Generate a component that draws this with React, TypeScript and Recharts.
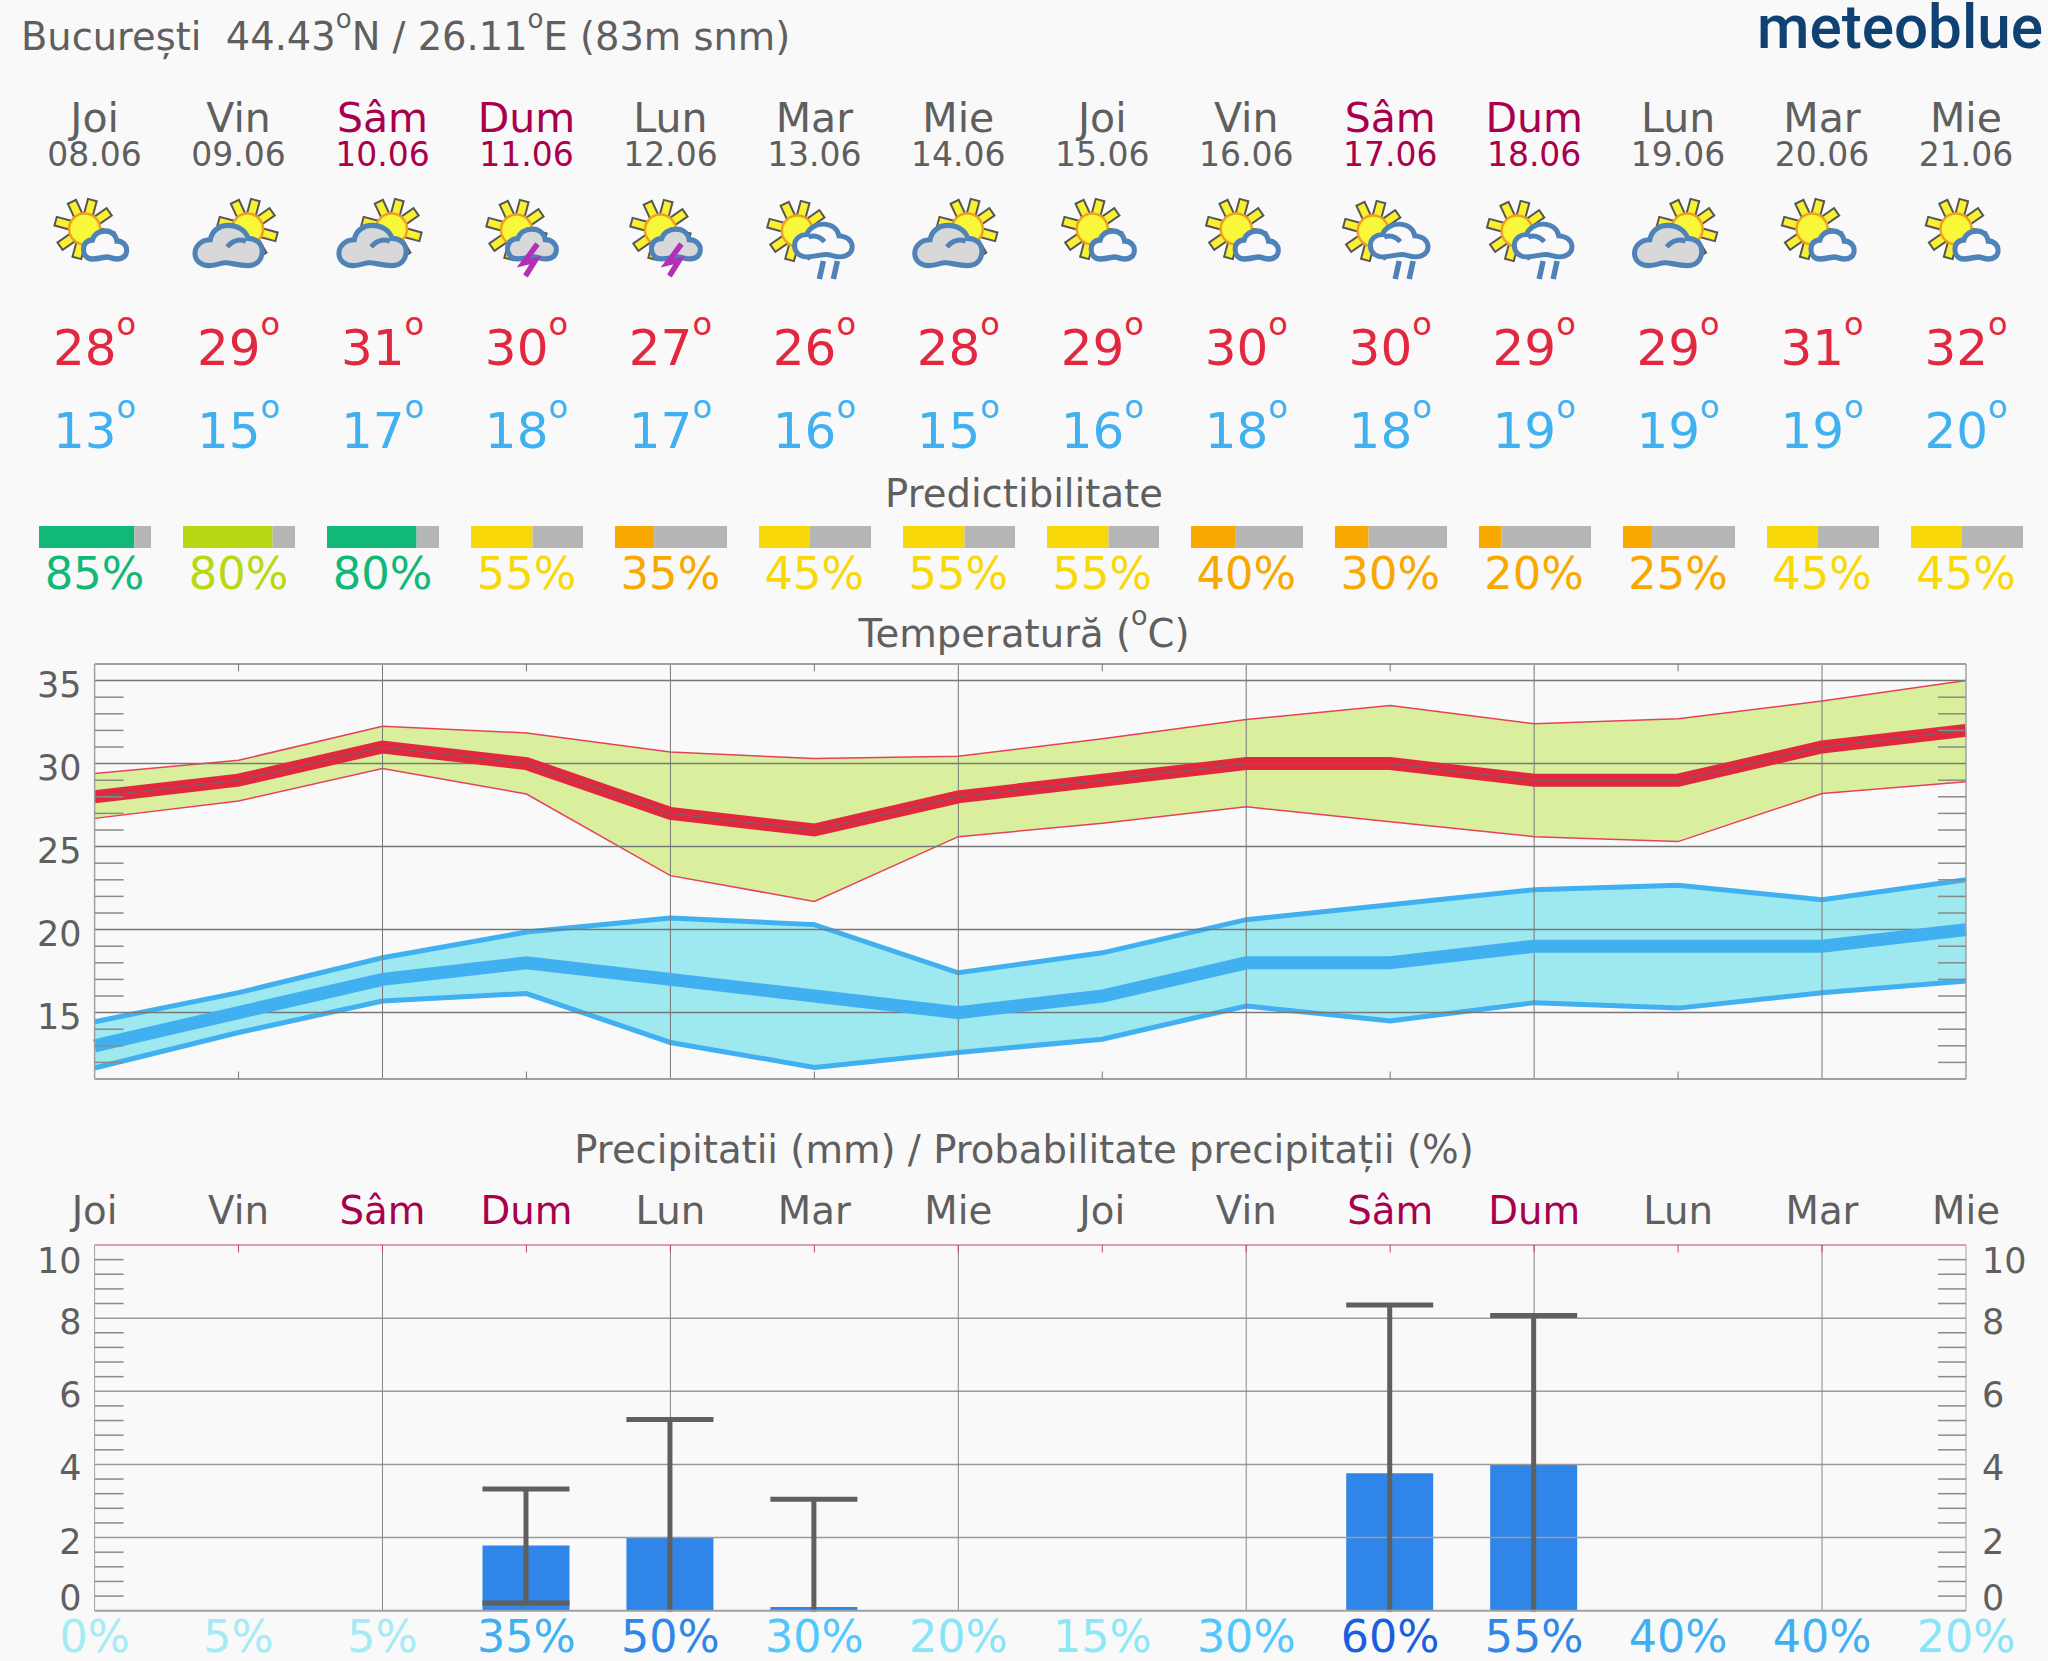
import { Area, Bar, BarChart, ComposedChart, ErrorBar, Line, ReferenceLine, XAxis, YAxis } from 'recharts'

const DAYS = ['Joi', 'Vin', 'Sâm', 'Dum', 'Lun', 'Mar', 'Mie', 'Joi', 'Vin', 'Sâm', 'Dum', 'Lun', 'Mar', 'Mie']
const DATES = ['08.06', '09.06', '10.06', '11.06', '12.06', '13.06', '14.06', '15.06', '16.06', '17.06', '18.06', '19.06', '20.06', '21.06']
const ICONS = ['sunCloud', 'cloudSun', 'cloudSun', 'storm', 'storm', 'rain', 'cloudSun', 'sunCloud', 'sunCloud', 'rain', 'rain', 'cloudSun', 'sunCloud', 'sunCloud']

const TEMP_MAX = [28, 29, 31, 30, 27, 26, 28, 29, 30, 30, 29, 29, 31, 32]
const TEMP_MIN = [13, 15, 17, 18, 17, 16, 15, 16, 18, 18, 19, 19, 19, 20]
const MAX_HIGH = [29.4, 30.2, 32.25, 31.85, 30.7, 30.3, 30.45, 31.5, 32.65, 33.5, 32.4, 32.7, 33.77, 35.0]
const MAX_LOW = [26.7, 27.75, 29.7, 28.17, 23.25, 21.7, 25.6, 26.4, 27.4, 26.5, 25.6, 25.3, 28.2, 28.9]
const MIN_HIGH = [14.45, 16.2, 18.3, 19.85, 20.7, 20.3, 17.4, 18.6, 20.6, 21.5, 22.4, 22.67, 21.8, 23.0]
const MIN_LOW = [11.66, 13.8, 15.7, 16.15, 13.2, 11.7, 12.6, 13.4, 15.4, 14.5, 15.6, 15.27, 16.2, 16.9]

const PREDICT = [85, 80, 80, 55, 35, 45, 55, 55, 40, 30, 20, 25, 45, 45]
const PREDICT_COLORS = ['#12b878', '#b8d814', '#12b878', '#f8d808', '#f8a800', '#f8d808', '#f8d808', '#f8d808', '#f8a800', '#f8a800', '#f8a800', '#f8a800', '#f8d808', '#f8d808']

const RAIN = [null, null, null, 1.78, 2.0, 0.1, null, null, null, 3.76, 4.0, null, null, null]
const RAIN_HIGH = [null, null, null, 3.33, 5.23, 3.05, null, null, null, 8.36, 8.07, null, null, null]
// -2 means the lower whisker runs off the bottom of the plot, so no cap shows
const RAIN_LOW = [null, null, null, 0.21, -2, -2, null, null, null, -2, -2, null, null, null]
const RAIN_PROB = [0, 5, 5, 35, 50, 30, 20, 15, 30, 60, 55, 40, 40, 20]
const RAIN_PROB_COLORS = ['#a4ecf4', '#a4ecf4', '#a4ecf4', '#40b0f0', '#2f86e8', '#50c8fc', '#88e4f6', '#8ce8f6', '#50c8fc', '#1a5ee0', '#2f86e8', '#40b0f0', '#40b0f0', '#88e4f6']

const TEMP_MAJOR = [15, 20, 25, 30, 35]
const TEMP_TICKS = [12, 13, 14, 15, 16, 17, 18, 19, 20, 21, 22, 23, 24, 25, 26, 27, 28, 29, 30, 31, 32, 33, 34, 35]
const RAIN_MAJOR = [0, 2, 4, 6, 8, 10]
const RAIN_TICKS = [0, 0.4, 0.8, 1.2, 1.6, 2, 2.4, 2.8, 3.2, 3.6, 4, 4.4, 4.8, 5.2, 5.6, 6, 6.4, 6.8, 7.2, 7.6, 8, 8.4, 8.8, 9.2, 9.6, 10]
const ALL_X = [0, 1, 2, 3, 4, 5, 6, 7, 8, 9, 10, 11, 12, 13]
const ODD_X = [1, 3, 5, 7, 9, 11]
const EVEN_X = [2, 4, 6, 8, 10, 12]
const RAY_ANGLES = [-165, -115, -75, -35, 15, 60, 105, 145]

const FONT = '"DejaVu Sans", sans-serif'
const GRAY = '#5f5f5f'
const WEEKEND = '#a8004c'
const BG = '#f9f9f9'
const PLOT_LEFT = 94.6
const PLOT_RIGHT = 82
const STEP = (2048 - PLOT_LEFT - PLOT_RIGHT) / 13

const dayColor = (d: string) => (d === 'Sâm' || d === 'Dum' ? WEEKEND : GRAY)
const cx = (i: number) => PLOT_LEFT + STEP * i

const tempData = DAYS.map((_, i) => ({
  i,
  max: TEMP_MAX[i],
  min: TEMP_MIN[i],
  maxBand: [MAX_LOW[i], MAX_HIGH[i]],
  minBand: [MIN_LOW[i], MIN_HIGH[i]],
}))

const rainData = DAYS.map((_, i) => ({
  i,
  rain: RAIN[i],
  err: RAIN[i] == null ? null : [RAIN[i]! - RAIN_LOW[i]!, RAIN_HIGH[i]! - RAIN[i]!],
}))

const CLOUD = 'M22 58 C8 58 2 48 2 38 C2 27 11 20 22 20 C26 8 38 2 50 2 C64 2 74 10 76 22 C88 22 98 30 98 41 C98 52 88 58 78 58 C66 58 62 54 55 54 C45 54 38 58 22 58 Z'

function Sun({ x, y }: { x: number; y: number }) {
  return (
    <g transform={`translate(${x} ${y})`}>
      {RAY_ANGLES.map((a) => (
        <rect key={a} x={14} y={-4.5} width={16} height={9} fill="#f8f030" stroke="#555" strokeWidth={2} transform={`rotate(${a})`} />
      ))}
      <circle r={15.5} fill="#f8f838" stroke="#f0a020" strokeWidth={2.5} />
    </g>
  )
}

function Cloud({ x, y, w, h, fill, flip, hook }: { x: number; y: number; w: number; h: number; fill: string; flip?: boolean; hook?: boolean }) {
  const t = flip ? `translate(${x + w} ${y}) scale(${-w / 100} ${h / 60})` : `translate(${x} ${y}) scale(${w / 100} ${h / 60})`
  const sw = (5 * 100) / w
  return (
    <g transform={t}>
      <path d={CLOUD} fill={fill} stroke="#4f82b8" strokeWidth={sw} />
      {hook && <path d="M25 24 C35 20 45 24 52 32" fill="none" stroke="#4f82b8" strokeWidth={sw} />}
    </g>
  )
}

function WeatherIcon({ kind, c }: { kind: string; c: number }) {
  if (kind === 'cloudSun') {
    return (
      <g>
        <Sun x={c + 9} y={229} />
        <Cloud x={c - 45} y={224} w={70} h={43} fill="#d8d8d8" flip hook />
      </g>
    )
  }
  if (kind === 'sunCloud') {
    return (
      <g>
        <Sun x={c - 10} y={229} />
        <Cloud x={c - 12} y={230} w={45} h={30} fill={BG} />
      </g>
    )
  }
  if (kind === 'storm') {
    return (
      <g>
        <Sun x={c - 10} y={230} />
        <Cloud x={c - 20} y={228} w={51} h={32} fill="#d8d8d8" />
        <path d={`M${c + 11} ${244} L${c - 3} ${263} L${c + 9} ${260} L${c - 1} ${276}`} fill="none" stroke="#b030b8" strokeWidth={5.5} />
      </g>
    )
  }
  return (
    <g>
      <Sun x={c - 17} y={231} />
      <Cloud x={c - 21} y={223} w={60} h={35} fill={BG} hook />
      <path d={`M${c + 9} 261 L${c + 5} 279 M${c + 23} 261 L${c + 19} 279`} stroke="#4f82b8" strokeWidth={5.5} fill="none" />
    </g>
  )
}

function Degree({ x, y, text, color }: { x: number; y: number; text: string; color: string }) {
  return (
    <text x={x} y={y} textAnchor="middle" fontSize={50} fill={color} fontFamily={FONT}>
      {text}
      <tspan dy={-30} fontSize={32}>o</tspan>
    </text>
  )
}

function Header() {
  return (
    <svg width={2048} height={1661} style={{ position: 'absolute', left: 0, top: 0 }}>
      <text x={21} y={50} fontSize={38.4} fill={GRAY} fontFamily={FONT} xmlSpace="preserve">
        București{'  '}44.43<tspan dy={-22} fontSize={26}>o</tspan><tspan dy={22}>N / 26.11</tspan><tspan dy={-22} fontSize={26}>o</tspan><tspan dy={22}>E (83m snm)</tspan>
      </text>
      <text x={1757} y={48} fontSize={62} fontWeight={500} fill="#0f4272" fontFamily="Roboto, sans-serif" textLength={286} lengthAdjust="spacingAndGlyphs">
        meteoblue
      </text>
      {DAYS.map((d, i) => (
        <g key={i}>
          <text x={cx(i)} y={132} textAnchor="middle" fontSize={41} fill={dayColor(d)} fontFamily={FONT}>{d}</text>
          <text x={cx(i)} y={166} textAnchor="middle" fontSize={33} fill={dayColor(d)} fontFamily={FONT}>{DATES[i]}</text>
          <WeatherIcon kind={ICONS[i]} c={cx(i)} />
          <Degree x={cx(i)} y={365} text={String(TEMP_MAX[i])} color="#e1283f" />
          <Degree x={cx(i)} y={448} text={String(TEMP_MIN[i])} color="#40b0f0" />
          <text x={cx(i)} y={589} textAnchor="middle" fontSize={44.8} fill={PREDICT_COLORS[i]} fontFamily={FONT}>{PREDICT[i]}%</text>
        </g>
      ))}
      <text x={1024} y={507} textAnchor="middle" fontSize={38.6} fill={GRAY} fontFamily={FONT}>Predictibilitate</text>
      <text x={1024} y={647} textAnchor="middle" fontSize={38.6} fill={GRAY} fontFamily={FONT}>
        Temperatură (<tspan dy={-22} fontSize={27}>o</tspan><tspan dy={22}>C)</tspan>
      </text>
      <text x={1024} y={1163} textAnchor="middle" fontSize={38.6} fill={GRAY} fontFamily={FONT}>Precipitatii (mm) / Probabilitate precipitații (%)</text>
      {RAIN_PROB.map((p, i) => (
        <text key={i} x={cx(i)} y={1651.7} textAnchor="middle" fontSize={44.4} fill={RAIN_PROB_COLORS[i]} fontFamily={FONT}>{p}%</text>
      ))}
    </svg>
  )
}

function PredictBar({ i }: { i: number }) {
  const row = [{ name: DATES[i], value: PREDICT[i], rest: 100 - PREDICT[i] }]
  return (
    <div style={{ position: 'absolute', left: cx(i) - 55.5, top: 526 }}>
      <BarChart width={112} height={22} data={row} layout="vertical" margin={{ top: 0, right: 0, bottom: 0, left: 0 }} barCategoryGap={0}>
        <XAxis type="number" domain={[0, 100]} hide />
        <YAxis type="category" dataKey="name" hide />
        <Bar dataKey="value" stackId="p" fill={PREDICT_COLORS[i]} isAnimationActive={false} />
        <Bar dataKey="rest" stackId="p" fill="#b6b6b6" isAnimationActive={false} />
      </BarChart>
    </div>
  )
}

// axis ticks: minor marks point into the plot, labels sit in the margins
function leftTick(major: number[], minorLen: number, rain: boolean) {
  return ({ x, y, payload }: any) => {
    const v = payload.value
    const isMajor = major.includes(v)
    const dy = rain && v === 0 ? -1 : rain && v === 10 ? 28 : 16
    return (
      <g>
        {!isMajor && <line x1={x} x2={x + minorLen} y1={y} y2={y} stroke="#8a8a8a" strokeWidth={1.5} />}
        {isMajor && <text x={x - 13} y={y + dy} textAnchor="end" fontSize={35} fill={GRAY} fontFamily={FONT}>{v}</text>}
      </g>
    )
  }
}

function rightTick(major: number[], minorLen: number, labels: boolean) {
  return ({ x, y, payload }: any) => {
    const v = payload.value
    const isMajor = major.includes(v)
    const dy = v === 0 ? -1 : v === 10 ? 28 : 16
    return (
      <g>
        {!isMajor && <line x1={x} x2={x - minorLen} y1={y} y2={y} stroke="#8a8a8a" strokeWidth={1.5} />}
        {isMajor && labels && <text x={x + 16} y={y + dy} fontSize={35} fill={GRAY} fontFamily={FONT}>{v}</text>}
      </g>
    )
  }
}

const innerTick = (dir: number, color: string) => ({ x, y }: any) => (
  <line x1={x} x2={x} y1={y} y2={y + dir * 7.5} stroke={color} strokeWidth={1} />
)

function TempChart() {
  return (
    <div style={{ position: 'absolute', left: 0, top: 600 }}>
      <ComposedChart width={2048} height={520} data={tempData} margin={{ top: 0, right: 0, bottom: 0, left: 0 }}>
        <XAxis dataKey="i" type="number" domain={[0, 13]} ticks={ODD_X} interval={0} height={41} tickSize={0} tickMargin={0} tickLine={false} stroke="#a0a0a0" strokeWidth={2} tick={innerTick(-1, '#777')} />
        <XAxis xAxisId="top" dataKey="i" type="number" orientation="top" domain={[0, 13]} ticks={ODD_X} interval={0} height={64} tickSize={0} tickMargin={0} tickLine={false} stroke="#a0a0a0" strokeWidth={2} tick={innerTick(1, '#777')} />
        <YAxis domain={[11, 36]} ticks={TEMP_TICKS} interval={0} width={PLOT_LEFT} tickSize={0} tickMargin={0} tickLine={false} stroke="#a0a0a0" strokeWidth={1.5} tick={leftTick(TEMP_MAJOR, 29, false)} />
        <YAxis yAxisId="right" orientation="right" domain={[11, 36]} ticks={TEMP_TICKS} interval={0} width={PLOT_RIGHT} tickSize={0} tickMargin={0} tickLine={false} stroke="#a0a0a0" strokeWidth={1.5} tick={rightTick(TEMP_MAJOR, 28, false)} />
        <Line yAxisId="right" dataKey="max" stroke="none" dot={false} activeDot={false} isAnimationActive={false} />
        <Area dataKey="maxBand" fill="#d9ef9e" fillOpacity={1} stroke="#e8405a" strokeWidth={1.5} isAnimationActive={false} dot={false} activeDot={false} />
        <Area dataKey="minBand" fill="#9ee8f0" fillOpacity={1} stroke="#40b0f0" strokeWidth={5} isAnimationActive={false} dot={false} activeDot={false} />
        {TEMP_MAJOR.map((v) => (
          <ReferenceLine key={v} y={v} stroke="#777" strokeWidth={1.5} />
        ))}
        {EVEN_X.map((v) => (
          <ReferenceLine key={v} x={v} stroke="#777" strokeWidth={1} />
        ))}
        <Line dataKey="min" stroke="#40b0f0" strokeWidth={13} dot={false} activeDot={false} isAnimationActive={false} />
        <Line dataKey="max" stroke="#e1283f" strokeWidth={13} dot={false} activeDot={false} isAnimationActive={false} />
        <Line dataKey="max" stroke="#6a6a6a" strokeWidth={1} dot={false} activeDot={false} isAnimationActive={false} />
      </ComposedChart>
    </div>
  )
}

function RainChart() {
  return (
    <div style={{ position: 'absolute', left: 0, top: 1175 }}>
      <ComposedChart width={2048} height={437} data={rainData} margin={{ top: 0, right: 0, bottom: 0, left: 0 }}>
        <XAxis dataKey="i" type="number" domain={[0, 13]} ticks={ALL_X} interval={0} height={1.3} tickSize={0} tickMargin={0} tickLine={false} tick={false} stroke="#a0a0a0" strokeWidth={2} />
        <XAxis
          xAxisId="top"
          dataKey="i"
          type="number"
          orientation="top"
          domain={[0, 13]}
          ticks={ALL_X}
          interval={0}
          height={70}
          tickSize={0}
          tickMargin={0}
          tickLine={false}
          stroke="#c8406a"
          strokeWidth={1.2}
          tick={({ x, y, payload }: any) => (
            <g>
              {payload.value > 0 && payload.value < 13 && <line x1={x} x2={x} y1={y} y2={y + 7.5} stroke="#c8406a" strokeWidth={1} />}
              <text x={x} y={y - 21} textAnchor="middle" fontSize={38.7} fill={dayColor(DAYS[payload.value])} fontFamily={FONT}>
                {DAYS[payload.value]}
              </text>
            </g>
          )}
        />
        <YAxis domain={[0, 10]} allowDataOverflow ticks={RAIN_TICKS} interval={0} width={PLOT_LEFT} tickSize={0} tickMargin={0} tickLine={false} stroke="#a0a0a0" strokeWidth={1} tick={leftTick(RAIN_MAJOR, 29, true)} />
        <YAxis yAxisId="right" orientation="right" domain={[0, 10]} ticks={RAIN_TICKS} interval={0} width={PLOT_RIGHT} tickSize={0} tickMargin={0} tickLine={false} stroke="#a0a0a0" strokeWidth={1} tick={rightTick(RAIN_MAJOR, 28, true)} />
        <Line yAxisId="right" dataKey="rain" stroke="none" dot={false} activeDot={false} isAnimationActive={false} />
        {RAIN_MAJOR.slice(1, 5).map((v) => (
          <ReferenceLine key={v} y={v} stroke="#9a9a9a" strokeWidth={1.5} />
        ))}
        {EVEN_X.map((v) => (
          <ReferenceLine key={v} x={v} stroke="#888" strokeWidth={1} />
        ))}
        <Bar dataKey="rain" fill="#2f86e8" barSize={87} isAnimationActive={false}>
          <ErrorBar dataKey="err" direction="y" width={43.5} stroke={GRAY} strokeWidth={5} isAnimationActive={false} />
        </Bar>
      </ComposedChart>
    </div>
  )
}

export default function App() {
  return (
    <div style={{ position: 'absolute', left: 0, top: 0, width: 2048, height: 1661, background: BG, overflow: 'hidden' }}>
      <Header />
      {DAYS.map((_, i) => (
        <PredictBar key={i} i={i} />
      ))}
      <TempChart />
      <RainChart />
    </div>
  )
}
